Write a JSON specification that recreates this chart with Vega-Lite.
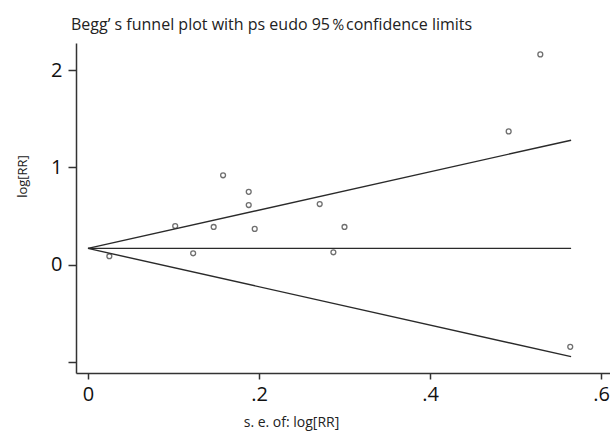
{
  "$schema": "https://vega.github.io/schema/vega-lite/v6.json",
  "autosize": {"type": "none"},
  "width": 534,
  "height": 330,
  "padding": {"left": 76, "top": 43, "right": 0, "bottom": 59},
  "background": "white",
  "config": {"view": {"stroke": null}, "font": "Open Sans"},
  "title": {
    "text": "Begg’ s funnel plot with ps eudo 95％confidence limits",
    "anchor": "start",
    "frame": "group",
    "dx": -5,
    "offset": 10,
    "fontSize": 16,
    "fontWeight": "normal",
    "color": "#222",
    "font": "Open Sans"
  },
  "datasets": {
    "studies": [
      {"se": 0.025, "logrr": 0.09},
      {"se": 0.102, "logrr": 0.40},
      {"se": 0.123, "logrr": 0.12},
      {"se": 0.147, "logrr": 0.39},
      {"se": 0.158, "logrr": 0.92},
      {"se": 0.188, "logrr": 0.75},
      {"se": 0.188, "logrr": 0.615},
      {"se": 0.195, "logrr": 0.37},
      {"se": 0.271, "logrr": 0.625},
      {"se": 0.287, "logrr": 0.13},
      {"se": 0.300, "logrr": 0.39},
      {"se": 0.492, "logrr": 1.37},
      {"se": 0.529, "logrr": 2.16},
      {"se": 0.564, "logrr": -0.84}
    ],
    "limits": [
      {"series": "upper", "se": 0, "logrr": 0.17},
      {"series": "upper", "se": 0.565, "logrr": 1.28},
      {"series": "pooled", "se": 0, "logrr": 0.17},
      {"series": "pooled", "se": 0.565, "logrr": 0.17},
      {"series": "lower", "se": 0, "logrr": 0.17},
      {"series": "lower", "se": 0.565, "logrr": -0.94}
    ]
  },
  "layer": [
    {
      "data": {"name": "limits"},
      "mark": {"type": "line", "color": "#2a2a2a", "strokeWidth": 1.4},
      "encoding": {
        "x": {
          "field": "se", "type": "quantitative",
          "scale": {"domain": [-0.014, 0.6105], "nice": false, "zero": false},
          "axis": {
            "values": [0, 0.2, 0.4, 0.6],
            "labelExpr": "datum.value == 0 ? '0' : replace(format(datum.value, '.1f'), '0.', '.')",
            "grid": false,
            "domainColor": "#333",
            "domainWidth": 1.5,
            "tickColor": "#333",
            "tickWidth": 1.5,
            "tickSize": 6,
            "labelFontSize": 20,
            "labelColor": "#111",
            "labelPadding": 5,
            "labelFont": "Open Sans",
            "title": "s. e. of: log[RR]",
            "titleFontSize": 14,
            "titleFontWeight": "normal",
            "titleColor": "#222",
            "titleX": 215,
            "titleY": 42,
            "titleBaseline": "top",
            "titleFont": "Open Sans"
          }
        },
        "y": {
          "field": "logrr", "type": "quantitative",
          "scale": {"domain": [-1.108, 2.277], "nice": false, "zero": false},
          "axis": {
            "values": [-1, 0, 1, 2],
            "labelExpr": "datum.value < 0 ? '' : format(datum.value, 'd')",
            "grid": false,
            "domainColor": "#333",
            "domainWidth": 1.5,
            "tickColor": "#333",
            "tickWidth": 1.5,
            "tickSize": 8,
            "labelFontSize": 20,
            "labelColor": "#111",
            "labelPadding": 6,
            "labelFont": "Open Sans",
            "title": "log[RR]",
            "titleFontSize": 13,
            "titleFontWeight": "normal",
            "titleColor": "#222",
            "titleX": -54,
            "titleY": 133,
            "titleAngle": -90,
            "titleAlign": "center",
            "titleBaseline": "middle",
            "titleFont": "Open Sans"
          }
        },
        "detail": {"field": "series"}
      }
    },
    {
      "data": {"name": "studies"},
      "mark": {"type": "point", "shape": "circle", "filled": false, "color": "#333", "strokeWidth": 1.3, "size": 24},
      "encoding": {
        "x": {"field": "se", "type": "quantitative"},
        "y": {"field": "logrr", "type": "quantitative"}
      }
    }
  ]
}
